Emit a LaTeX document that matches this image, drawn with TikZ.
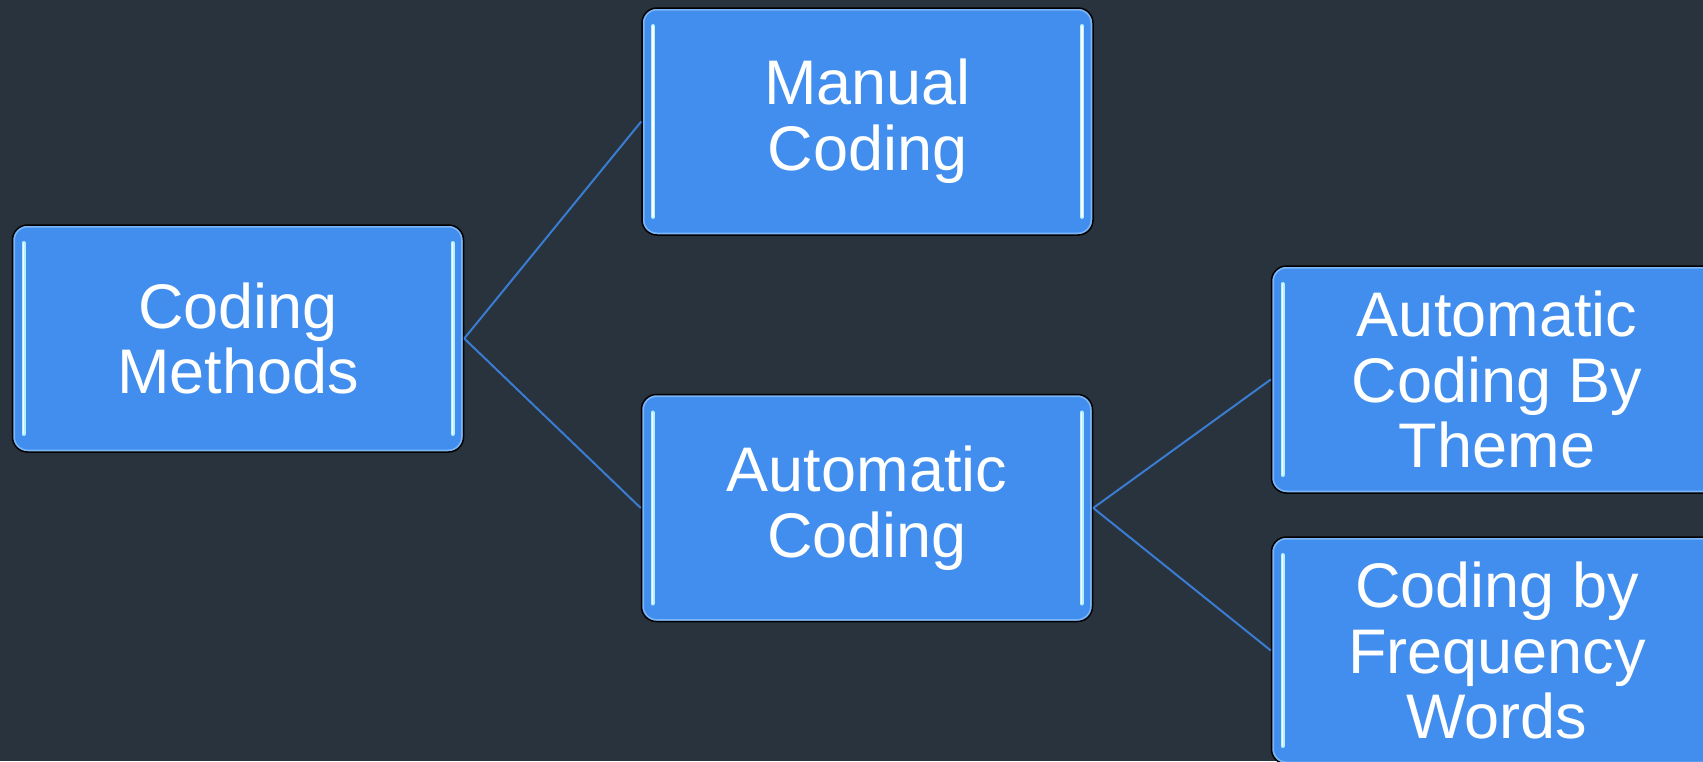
\documentclass[tikz,border=0pt]{standalone}
\usepackage{fontspec}
\setmainfont{Liberation Sans}
\definecolor{slate}{HTML}{29333D}
\definecolor{boxblue}{HTML}{428EEE}
\definecolor{rimblue}{HTML}{7DB6F6}
\definecolor{shine}{HTML}{B4F0FF}
\definecolor{linkblue}{HTML}{3A7CD2}

\begin{document}
\begin{tikzpicture}[x=0.5pt,y=-0.5pt,
  box/.style={draw=black, line width=0.75pt, fill=boxblue, rounded corners=7.5pt,
    minimum width=225.5pt, minimum height=113.5pt, align=center, text=white,
    font=\fontsize{31.5}{32.9}\selectfont,
    path picture={
      \draw[rimblue, line width=2.5pt]
        (path picture bounding box.north west) rectangle (path picture bounding box.south east);
      \draw[shine, line width=2pt, line cap=round]
        ([shift={(5.5pt,-9pt)}]path picture bounding box.north west) --
        ([shift={(5.5pt,9pt)}]path picture bounding box.south west);
      \draw[shine, line width=2pt, line cap=round]
        ([shift={(-5.5pt,-9pt)}]path picture bounding box.north east) --
        ([shift={(-5.5pt,9pt)}]path picture bounding box.south east);
      \draw[white, line width=0.6pt]
        ([shift={(5.5pt,-9pt)}]path picture bounding box.north west) --
        ([shift={(5.5pt,9pt)}]path picture bounding box.south west);
      \draw[white, line width=0.6pt]
        ([shift={(-5.5pt,-9pt)}]path picture bounding box.north east) --
        ([shift={(-5.5pt,9pt)}]path picture bounding box.south east);
    }},
  link/.style={draw=linkblue, line width=1pt}]
  \fill[slate] (0,0) rectangle (1703,761);
  \useasboundingbox (0,0) rectangle (1703,761);
  \clip (0,0) rectangle (1703,761);

  \node[box] (methods) at (238,338.5) {Coding\\Methods};
  \node[box] (manual) at (867.5,121.5) {Manual\\Coding};
  \node[box] (automatic) at (867,508) {Automatic\\Coding};
  \node[box] (theme) at (1497,379.5) {Automatic\\Coding By\\Theme};
  \node[box] (frequency) at (1497,650.5) {Coding by\\Frequency\\Words};

  \draw[link] (methods.east) -- (manual.west);
  \draw[link] (methods.east) -- (automatic.west);
  \draw[link] (automatic.east) -- (theme.west);
  \draw[link] (automatic.east) -- (frequency.west);
\end{tikzpicture}
\end{document}
